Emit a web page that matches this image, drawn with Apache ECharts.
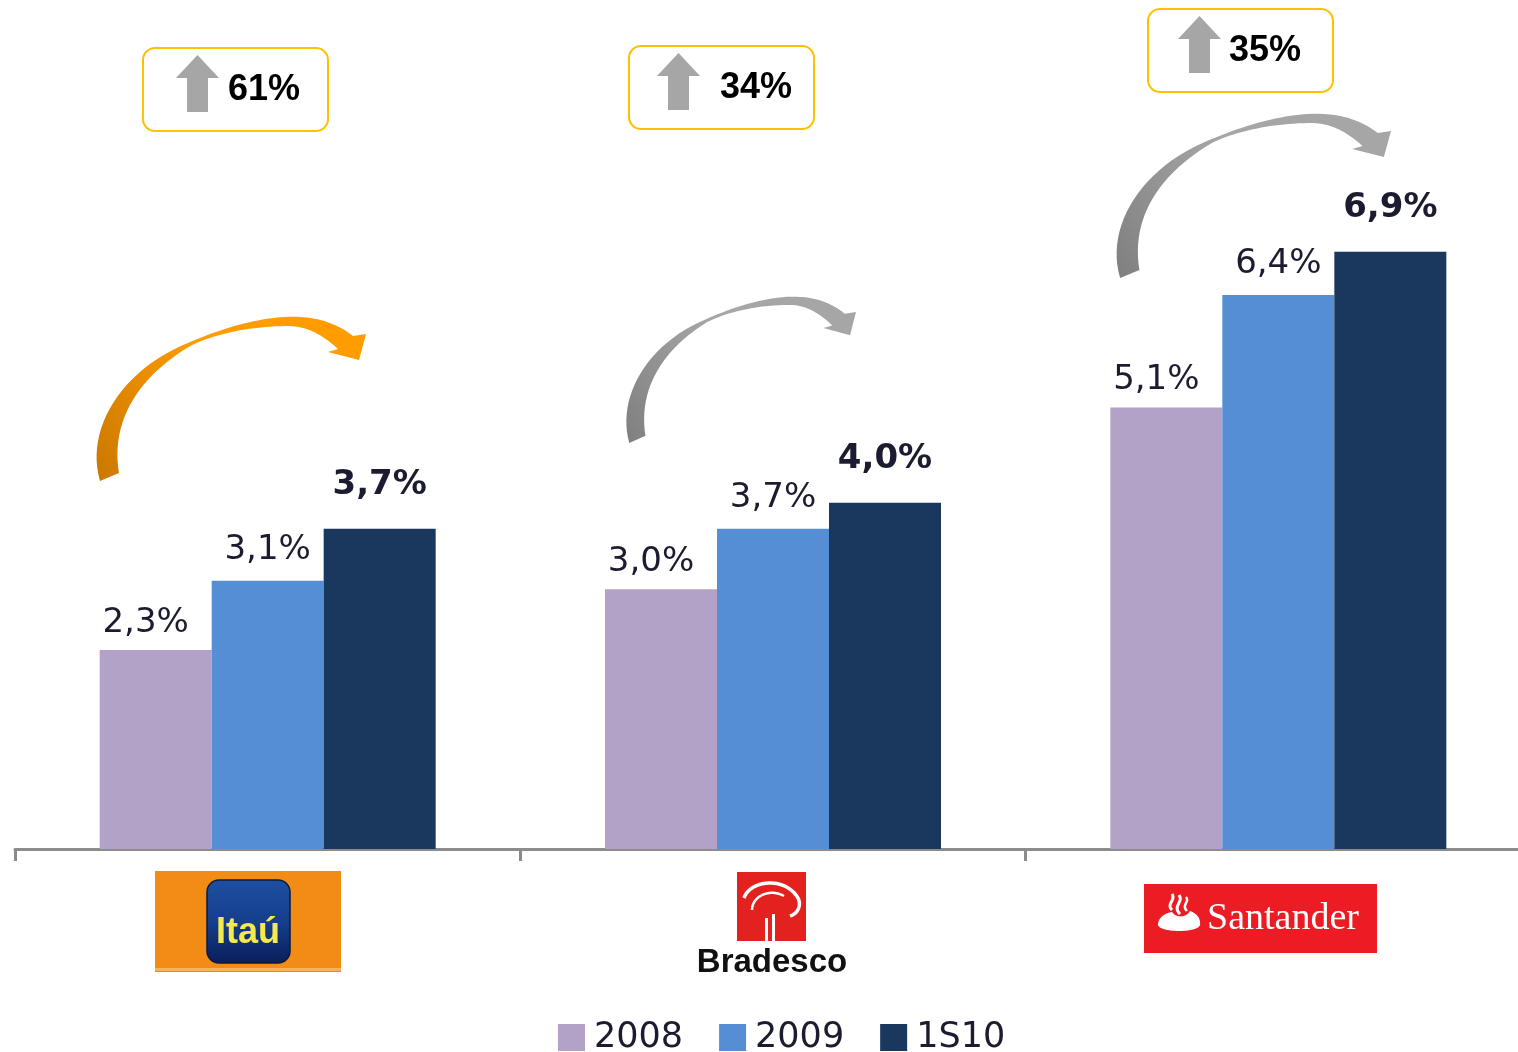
<!DOCTYPE html>
<html>
<head>
<meta charset="utf-8">
<script src="https://cdn.jsdelivr.net/npm/echarts@6/dist/echarts.min.js"></script>
<style>
html,body{margin:0;padding:0;background:#fff;}
#chart{width:1518px;height:1052px;}
</style>
</head>
<body>
<div id="chart"></div>
<script>
// ---- data ----
const banks = ['Itaú', 'Bradesco', 'Santander'];
const seriesNames = ['2008', '2009', '1S10'];
const s2008 = [2.3, 3.0, 5.1];
const s2009 = [3.1, 3.7, 6.4];
const s1S10 = [3.7, 4.0, 6.9];
const growth = ['61%', '34%', '35%'];

// ---- styling ----
const colors = ['#B3A2C8', '#558ED5', '#1A375E'];
const fmt = v => v.toFixed(1).replace('.', ',') + '%';

// sample a command list (M/L/C) into points
function sample(cmds, tf) {
  const pts = [];
  let cur = null;
  const T = tf || ((x, y) => [x, y]);
  cmds.forEach(c => {
    if (c[0] === 'M' || c[0] === 'L') {
      cur = T(c[1], c[2]); pts.push(cur);
    } else if (c[0] === 'C') {
      const p1 = T(c[1], c[2]), p2 = T(c[3], c[4]), p3 = T(c[5], c[6]), p0 = cur;
      for (let i = 1; i <= 24; i++) {
        const t = i / 24, u = 1 - t;
        pts.push([
          u * u * u * p0[0] + 3 * u * u * t * p1[0] + 3 * u * t * t * p2[0] + t * t * t * p3[0],
          u * u * u * p0[1] + 3 * u * u * t * p1[1] + 3 * u * t * t * p2[1] + t * t * t * p3[1]
        ]);
      }
      cur = p3;
    }
  });
  return pts;
}

// curved arrow outline (designed in a reference box x:95,y:316,w:271,h:165)
const arrowCmds = [
  ['M', 100, 481], ['C', 85, 430, 120, 370, 190, 342], ['C', 230, 325, 270, 315, 300, 317],
  ['C', 325, 318, 343, 328, 353, 336], ['L', 366, 334], ['L', 359, 360], ['L', 328, 352],
  ['L', 338, 349], ['C', 325, 337, 310, 327, 290, 326], ['C', 250, 326, 215, 334, 192, 345],
  ['C', 140, 375, 110, 420, 119, 473]
];
function arrowPoly(bx, by, bw, bh) {
  const sx = bw / 271, sy = bh / 165;
  return sample(arrowCmds, (x, y) => [bx + (x - 95) * sx, by + (y - 316) * sy]);
}
function grad(c0, c1) {
  return new echarts.graphic.LinearGradient(0, 1, 1, 0, [{ offset: 0, color: c0 }, { offset: 0.5, color: c1 }, { offset: 1, color: c1 }]);
}

function growthBox(bx, by, ax, tx, text) {
  const a = bx + ax;
  return [
    { type: 'rect', shape: { x: bx, y: by, width: 185, height: 83, r: 12 }, style: { fill: '#fff', stroke: '#FFC000', lineWidth: 2 } },
    { type: 'polygon', shape: { points: [[a + 21.5, by + 7], [a + 43, by + 30], [a + 32, by + 30], [a + 32, by + 64], [a + 11, by + 64], [a + 11, by + 30], [a, by + 30]] }, style: { fill: '#A6A6A6' } },
    { type: 'text', style: { text: text, x: bx + tx, y: by + 42, fill: '#000', font: 'bold 36px "Liberation Sans", Arial, sans-serif', align: 'left', verticalAlign: 'middle' } }
  ];
}

const graphics = [].concat(
  growthBox(143, 48, 33, 85, growth[0]),
  growthBox(629, 46, 28, 91, growth[1]),
  growthBox(1148, 9, 30, 81, growth[2]),
  [
    { type: 'polygon', shape: { points: arrowPoly(95, 316, 271, 165) }, style: { fill: grad('#C97800', '#FF9C00') } },
    { type: 'polygon', shape: { points: arrowPoly(625, 296, 231, 147) }, style: { fill: grad('#7F7F7F', '#A6A6A6') } },
    { type: 'polygon', shape: { points: arrowPoly(1115, 113, 276, 165) }, style: { fill: grad('#7F7F7F', '#A6A6A6') } },
    // Itaú logo
    { type: 'rect', shape: { x: 155, y: 871, width: 186, height: 101 }, style: { fill: '#F28C14' } },
    { type: 'rect', shape: { x: 155, y: 968, width: 186, height: 3 }, style: { fill: '#F7B35A' } },
    { type: 'rect', shape: { x: 207, y: 880, width: 83, height: 83, r: 12 },
      style: { fill: new echarts.graphic.LinearGradient(0, 0, 0, 1, [{ offset: 0, color: '#1E4FA3' }, { offset: 0.5, color: '#163F8C' }, { offset: 1, color: '#0A1E5A' }]), stroke: '#0B1A40', lineWidth: 1.5 } },
    { type: 'text', style: { text: 'Itaú', x: 248, y: 933, fill: '#F4EA4C', font: 'bold 36px "Liberation Sans", Arial, sans-serif', align: 'center', verticalAlign: 'middle' } },
    // Bradesco logo
    { type: 'rect', shape: { x: 737, y: 872, width: 69, height: 69 }, style: { fill: '#E3211F' } },
    { type: 'polyline', shape: { points: sample([['M', 744, 898], ['C', 750, 880, 785, 876, 798, 898], ['C', 802, 906, 797, 914, 790, 916]]) }, style: { stroke: '#fff', lineWidth: 3.5, fill: null } },
    { type: 'polyline', shape: { points: sample([['M', 752, 910], ['C', 752, 896, 770, 888, 784, 896]]) }, style: { stroke: '#fff', lineWidth: 2.5, fill: null } },
    { type: 'rect', shape: { x: 765, y: 918, width: 3, height: 23 }, style: { fill: '#fff' } },
    { type: 'rect', shape: { x: 772, y: 914, width: 3, height: 27 }, style: { fill: '#fff' } },
    { type: 'text', style: { text: 'Bradesco', x: 772, y: 963, fill: '#111', font: 'bold 33px "Liberation Sans", Arial, sans-serif', align: 'center', verticalAlign: 'middle' } },
    // Santander logo
    { type: 'rect', shape: { x: 1144, y: 884, width: 233, height: 69 }, style: { fill: '#EC1C24' } },
    { type: 'polygon', shape: { points: sample([['M', 1158, 925], ['C', 1158, 915, 1170, 912, 1172, 912], ['C', 1176, 918, 1186, 918, 1190, 911], ['C', 1196, 913, 1201, 918, 1200, 925], ['C', 1198, 933, 1160, 933, 1158, 925]]) }, style: { fill: '#fff' } },
    { type: 'polyline', shape: { points: sample([['M', 1172, 910], ['C', 1166, 904, 1176, 900, 1172, 894]]) }, style: { stroke: '#fff', lineWidth: 3, fill: null } },
    { type: 'polyline', shape: { points: sample([['M', 1180, 914], ['C', 1172, 906, 1184, 902, 1179, 895]]) }, style: { stroke: '#fff', lineWidth: 3, fill: null } },
    { type: 'polyline', shape: { points: sample([['M', 1187, 911], ['C', 1181, 905, 1190, 902, 1186, 897]]) }, style: { stroke: '#fff', lineWidth: 2.5, fill: null } },
    { type: 'text', style: { text: 'Santander', x: 1207, y: 919, fill: '#fff', font: '38px "Liberation Serif", "Times New Roman", serif', align: 'left', verticalAlign: 'middle' } }
  ]
);

const labelBase = { show: true, position: 'top', fontFamily: 'DejaVu Sans', fontSize: 34, color: '#1C1C30', formatter: p => fmt(p.value) };

const option = {
  animation: false,
  backgroundColor: '#fff',
  grid: { left: 15, width: 1516, top: 70, bottom: 203, outerBoundsMode: 'none', containLabel: false },
  xAxis: {
    type: 'category', data: banks,
    axisLine: { lineStyle: { color: '#8C8C8C', width: 3 } },
    axisTick: { show: true, length: 12, lineStyle: { color: '#8C8C8C', width: 3 } },
    axisLabel: { show: false }
  },
  yAxis: { type: 'value', min: 0, max: 9, show: false, splitLine: { show: false } },
  legend: {
    data: seriesNames, left: 553, top: 1015, icon: 'rect', itemWidth: 27, itemHeight: 27, itemGap: 36,
    textStyle: { fontFamily: 'DejaVu Sans', fontSize: 35, color: '#1C1C30', padding: [0, 0, 0, 4] }
  },
  series: [
    { name: seriesNames[0], type: 'bar', data: s2008, barWidth: 112, barGap: '0%', itemStyle: { color: colors[0] },
      label: Object.assign({}, labelBase, { distance: 10, offset: [-10, 0] }) },
    { name: seriesNames[1], type: 'bar', data: s2009, barWidth: 112, barGap: '0%', itemStyle: { color: colors[1] },
      label: Object.assign({}, labelBase, { distance: 14 }) },
    { name: seriesNames[2], type: 'bar', data: s1S10, barWidth: 112, barGap: '0%', itemStyle: { color: colors[2] },
      label: Object.assign({}, labelBase, { distance: 27, fontWeight: 'bold' }) }
  ],
  graphic: graphics
};

const chart = echarts.init(document.getElementById('chart'), null, { renderer: 'canvas' });
chart.setOption(option);
</script>
</body>
</html>
